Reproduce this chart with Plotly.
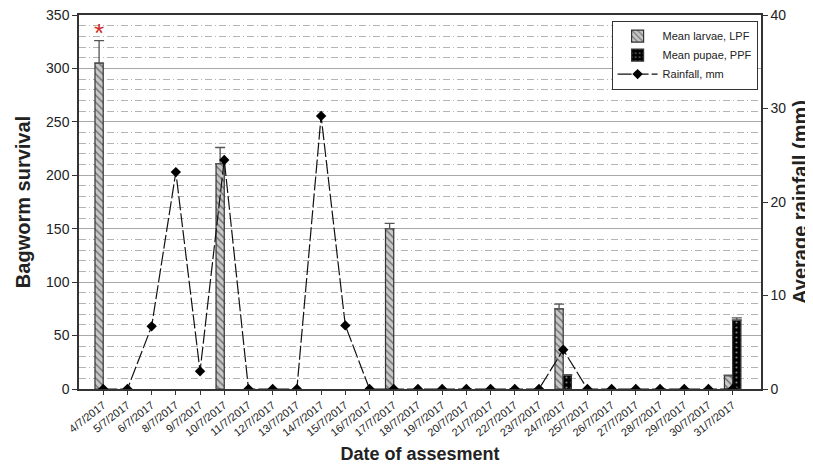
import plotly.graph_objects as go

dates = ["4/7/2017", "5/7/2017", "6/7/2017", "8/7/2017", "9/7/2017", "10/7/2017",
         "11/7/2017", "12/7/2017", "13/7/2017", "14/7/2017", "15/7/2017", "16/7/2017",
         "17/7/2017", "18/7/2017", "19/7/2017", "20/7/2017", "21/7/2017", "22/7/2017",
         "23/7/2017", "24/7/2017", "25/7/2017", "26/7/2017", "27/7/2017", "28/7/2017",
         "29/7/2017", "30/7/2017", "31/7/2017"]

larvae = [305, None, None, None, None, 211, None, None, None, None, None, None,
          150, None, None, None, None, None, None, 75, None, None, None, None,
          None, None, 12.5]
larvae_err = [21, 0, 0, 0, 0, 15, 0, 0, 0, 0, 0, 0,
              5, 0, 0, 0, 0, 0, 0, 4.5, 0, 0, 0, 0, 0, 0, 0.5]

pupae = [None] * 19 + [13] + [None] * 6 + [64.5]
pupae_err = [0] * 19 + [0.5] + [0] * 6 + [2]

rainfall = [0, 0, 6.7, 23.2, 1.9, 24.5, 0, 0, 0, 29.2, 6.8, 0,
            0, 0, 0, 0, 0, 0, 0, 4.2, 0, 0, 0, 0, 0, 0, 0]

FONT = "Liberation Sans, Arial, sans-serif"

fig = go.Figure()

fig.add_trace(go.Bar(
    x=dates, y=larvae, name="Mean larvae, LPF",
    offset=-0.34, width=0.34,
    marker=dict(color="#c8c8c8", line=dict(color="#333333", width=1.2),
                pattern=dict(shape="\\", fgcolor="#222222", bgcolor="#c8c8c8",
                             size=5, solidity=0.3)),
    error_y=dict(type="data", symmetric=False, array=larvae_err,
                 arrayminus=[0] * len(dates), color="#555555", thickness=1.3, width=5),
    yaxis="y"))

fig.add_trace(go.Bar(
    x=dates, y=pupae, name="Mean pupae, PPF",
    offset=0.0, width=0.34,
    marker=dict(color="#000000", line=dict(color="#333333", width=1.2),
                pattern=dict(shape=".", fgcolor="#ffffff", bgcolor="#000000",
                             size=5, solidity=0.15)),
    error_y=dict(type="data", symmetric=False, array=pupae_err,
                 arrayminus=[0] * len(dates), color="#555555", thickness=1.3, width=5),
    yaxis="y"))

fig.add_trace(go.Scatter(
    x=dates, y=rainfall, name="Rainfall, mm", mode="lines+markers",
    line=dict(color="#111111", width=1.2, dash="14px,3px"),
    marker=dict(symbol="diamond", size=8, color="#000000"),
    yaxis="y2"))

fig.add_annotation(x=dates[0], y=333, xref="x", yref="y", text="*",
                   showarrow=False, xshift=-4,
                   font=dict(color="#d42a2a", size=26, family=FONT))

fig.update_layout(
    width=805, height=461,
    margin=dict(l=71, r=52, t=7, b=80, autoexpand=False),
    paper_bgcolor="white", plot_bgcolor="white",
    font=dict(family=FONT, color="#222222"),
    barmode="overlay",
    showlegend=True,
    legend=dict(x=0.995, y=0.985, xanchor="right", yanchor="top",
                bgcolor="white", bordercolor="#333333", borderwidth=1,
                font=dict(size=11, family=FONT), tracegroupgap=0,
                itemwidth=40),
    xaxis=dict(
        type="category", categoryorder="array", categoryarray=dates,
        range=[-1, 27.17], automargin=False,
        tickangle=-38, tickfont=dict(size=11, family=FONT),
        ticks="outside", ticklen=4, tickcolor="#333333",
        showline=True, linecolor="#333333", linewidth=1.5, mirror=True,
        showgrid=False,
        title=dict(text="<b>Date of assesment</b>", font=dict(size=18, family=FONT),
                   standoff=10)),
    yaxis=dict(
        range=[0, 350], tickvals=[0, 50, 100, 150, 200, 250, 300, 350],
        automargin=False, ticklabeloverflow="allow",
        tickfont=dict(size=14, family=FONT),
        ticks="outside", ticklen=5, tickcolor="#333333",
        showline=True, linecolor="#333333", linewidth=1.5,
        showgrid=True, gridcolor="#a8a8a8", gridwidth=1,
        minor=dict(dtick=10, showgrid=True, gridcolor="#b4b4b4",
                   griddash="7px,3px,1px,3px", gridwidth=1),
        zeroline=False,
        title=dict(text="<b>Bagworm survival</b>", font=dict(size=20, family=FONT),
                   standoff=10)),
    yaxis2=dict(
        range=[0, 40], tickvals=[0, 10, 20, 30, 40], overlaying="y", side="right",
        automargin=False, ticklabeloverflow="allow",
        tickfont=dict(size=14, family=FONT),
        ticks="outside", ticklen=5, tickcolor="#333333",
        showline=True, linecolor="#333333", linewidth=1.5,
        showgrid=False, zeroline=False,
        title=dict(text="<b>Average rainfall (mm)</b>", font=dict(size=20, family=FONT),
                   standoff=8)),
)

fig.write_html("out.html")
